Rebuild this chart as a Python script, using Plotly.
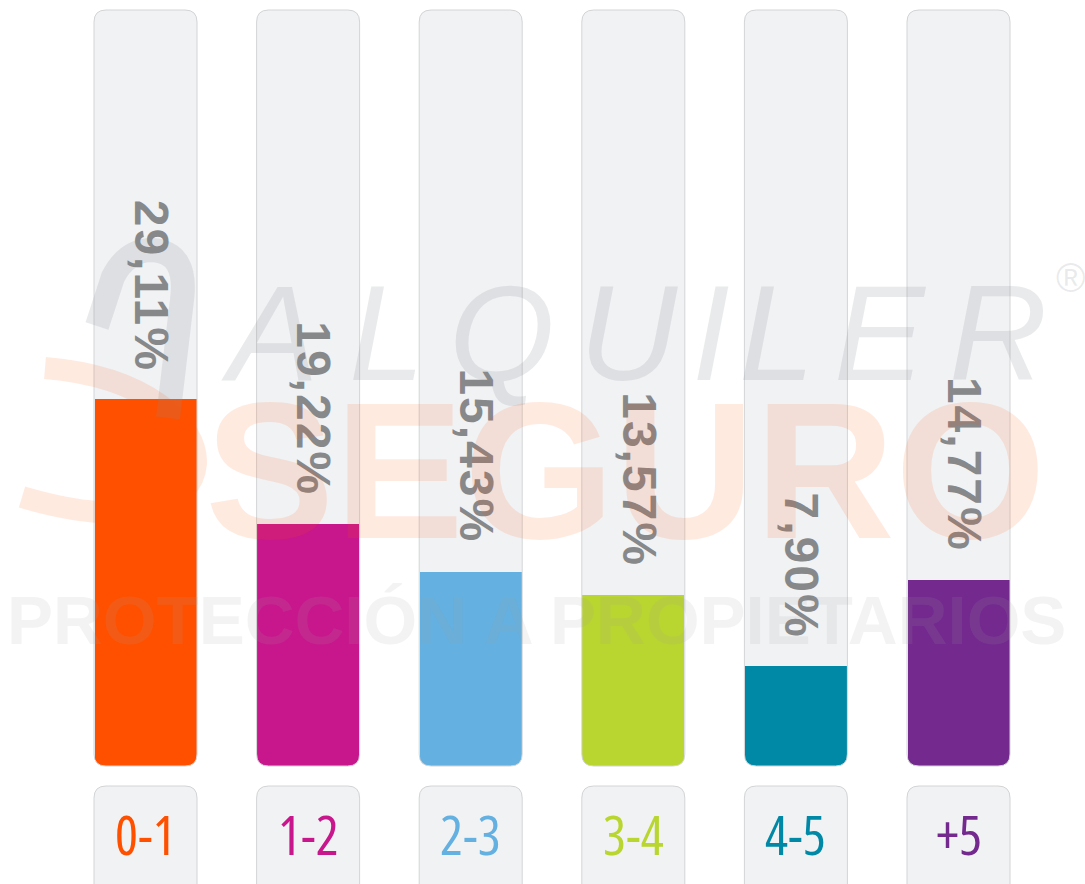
import plotly.graph_objects as go

# ---------------- data ----------------
CATEGORIES = ["0-1", "1-2", "2-3", "3-4", "4-5", "+5"]
VALUES = [29.11, 19.22, 15.43, 13.57, 7.90, 14.77]
COLORS = ["#ff5000", "#c8168c", "#63b0e1", "#b9d530", "#0089a6", "#73298e"]
TRACK_MAX = 60

# ---------------- geometry (pixels) ----------------
W, H = 1085, 884
PX_X = 162.6          # pixels per category step
PX_Y = 12.6           # pixels per percentage point
X0_PX = 145.5         # pixel centre of first category
BASE_PX = 766         # pixel of value 0
xr = [-X0_PX / PX_X, (W - X0_PX) / PX_X]
yr = [-(H - BASE_PX) / PX_Y, BASE_PX / PX_Y]

TRACK_HALF = 51.5 / PX_X
BAR_W = 102 / PX_X
RX, RY = 12 / PX_X, 12 / PX_Y
BOX_TOP = -(786 - BASE_PX) / PX_Y

TRACK_FILL = "#f1f2f4"
TRACK_LINE = "#d3d4d6"


def rrect(x0, x1, y0, y1, rx, ry, bottom=True):
    p = [f"M {x0},{y0+ry}" if bottom else f"M {x0},{y0}",
         f"L {x0},{y1-ry}",
         f"Q {x0},{y1} {x0+rx},{y1}",
         f"L {x1-rx},{y1}",
         f"Q {x1},{y1} {x1},{y1-ry}"]
    if bottom:
        p += [f"L {x1},{y0+ry}",
              f"Q {x1},{y0} {x1-rx},{y0}",
              f"L {x0+rx},{y0}",
              f"Q {x0},{y0} {x0},{y0+ry}"]
    else:
        p.append(f"L {x1},{y0}")
    p.append("Z")
    return " ".join(p)


xpos = list(range(len(CATEGORIES)))

fig = go.Figure()

fig.add_trace(go.Bar(
    x=xpos, y=VALUES, width=BAR_W,
    marker=dict(color=COLORS, line=dict(width=0)),
    hoverinfo="skip", showlegend=False,
))

shapes = []
for i in xpos:
    x0, x1 = i - TRACK_HALF, i + TRACK_HALF
    # track background
    shapes.append(dict(type="path", xref="x", yref="y", layer="below",
                       path=rrect(x0, x1, 0, TRACK_MAX, RX, RY),
                       fillcolor=TRACK_FILL, line=dict(width=0)))
    # white masks so the fill follows the rounded bottom of the track
    shapes.append(dict(type="path", xref="x", yref="y", layer="above",
                       path=f"M {x0-0.01},{-0.3} L {x0-0.01},{RY} L {x0},{RY} Q {x0},0 {x0+RX},0 L {x0+RX},{-0.3} Z",
                       fillcolor="white", line=dict(width=0)))
    shapes.append(dict(type="path", xref="x", yref="y", layer="above",
                       path=f"M {x1+0.01},{-0.3} L {x1+0.01},{RY} L {x1},{RY} Q {x1},0 {x1-RX},0 L {x1-RX},{-0.3} Z",
                       fillcolor="white", line=dict(width=0)))
    # track outline
    shapes.append(dict(type="path", xref="x", yref="y", layer="above",
                       path=rrect(x0, x1, 0, TRACK_MAX, RX, RY),
                       fillcolor="rgba(0,0,0,0)", line=dict(color=TRACK_LINE, width=1)))
    # category box
    shapes.append(dict(type="path", xref="x", yref="y", layer="below",
                       path=rrect(x0, x1, -20, BOX_TOP, RX, RY, bottom=False),
                       fillcolor=TRACK_FILL, line=dict(color=TRACK_LINE, width=1)))


def pp(x, y):
    return f"{x / W},{1 - y / H}"


WM_GREY = "rgba(140,145,150,0.19)"
# watermark logo strokes (paper coords from pixels)
shapes.append(dict(type="path", xref="paper", yref="paper", layer="above",
                   path=f"M {pp(97,326)} L {pp(113,277)} Q {pp(127,250)} {pp(152,250)} Q {pp(188,252)} {pp(182,300)} L {pp(168,418)}",
                   line=dict(color=WM_GREY, width=24)))
shapes.append(dict(type="path", xref="paper", yref="paper", layer="above",
                   path=f"M {pp(45,368)} C {pp(250,385)} {pp(250,565)} {pp(22,497)}",
                   line=dict(color="rgba(255,80,0,0.12)", width=22)))

annotations = []
# percentage labels
for i, v in enumerate(VALUES):
    label = f"{v:.2f}".replace(".", ",") + "%"
    annotations.append(dict(
        x=i, y=v, xref="x", yref="y",
        text=f"<span style='letter-spacing:2px'>{label}</span>",
        textangle=90, showarrow=False, xanchor="center", yanchor="bottom",
        yshift=26, xshift=6,
        font=dict(family="Liberation Sans, Arial, sans-serif", size=48, color="#87888a", weight="bold"),
    ))
# category labels
for i, (c, col) in enumerate(zip(CATEGORIES, COLORS)):
    annotations.append(dict(
        x=i, y=1 - 834 / H, xref="x", yref="paper",
        text=f"<span style='font-stretch:condensed'>{c}</span>",
        showarrow=False, xanchor="center", yanchor="middle",
        font=dict(family="Open Sans, Roboto Condensed, sans-serif", size=54, color=col, weight=400),
    ))

# watermark text
for ch, cx in zip("ALQUILER", [270, 387, 502, 628, 711, 777, 880, 998]):
    annotations.append(dict(
        x=cx / W, y=1 - 333 / H, xref="paper", yref="paper", text=ch, showarrow=False,
        xanchor="center", yanchor="middle",
        font=dict(family="Liberation Sans, Arial, sans-serif", size=136, color=WM_GREY, style="italic"),
    ))
annotations.append(dict(x=1070 / W, y=1 - 278 / H, xref="paper", yref="paper", text="®", showarrow=False,
                        xanchor="center", yanchor="middle",
                        font=dict(family="Liberation Sans, Arial, sans-serif", size=40, color=WM_GREY)))
annotations.append(dict(x=625 / W, y=1 - 470 / H, xref="paper", yref="paper", text="SEGURO", showarrow=False,
                        xanchor="center", yanchor="middle",
                        font=dict(family="Liberation Sans, Arial, sans-serif", size=194,
                                  color="rgba(255,80,0,0.12)", weight="bold")))
annotations.append(dict(x=536 / W, y=1 - 620 / H, xref="paper", yref="paper", text="PROTECCIÓN A PROPIETARIOS",
                        showarrow=False, xanchor="center", yanchor="middle",
                        font=dict(family="Liberation Sans, Arial, sans-serif", size=69,
                                  color="rgba(160,160,160,0.13)", weight="bold")))

fig.update_layout(
    width=W, height=H, autosize=False,
    margin=dict(l=0, r=0, t=0, b=0, pad=0),
    paper_bgcolor="white", plot_bgcolor="white",
    xaxis=dict(range=xr, visible=False, fixedrange=True),
    yaxis=dict(range=yr, visible=False, fixedrange=True),
    bargap=0, shapes=shapes, annotations=annotations,
    showlegend=False,
)

fig.write_html("out.html", config={"displayModeBar": False},
               post_script="document.body.style.margin='0px'; document.body.style.overflow='hidden';")
